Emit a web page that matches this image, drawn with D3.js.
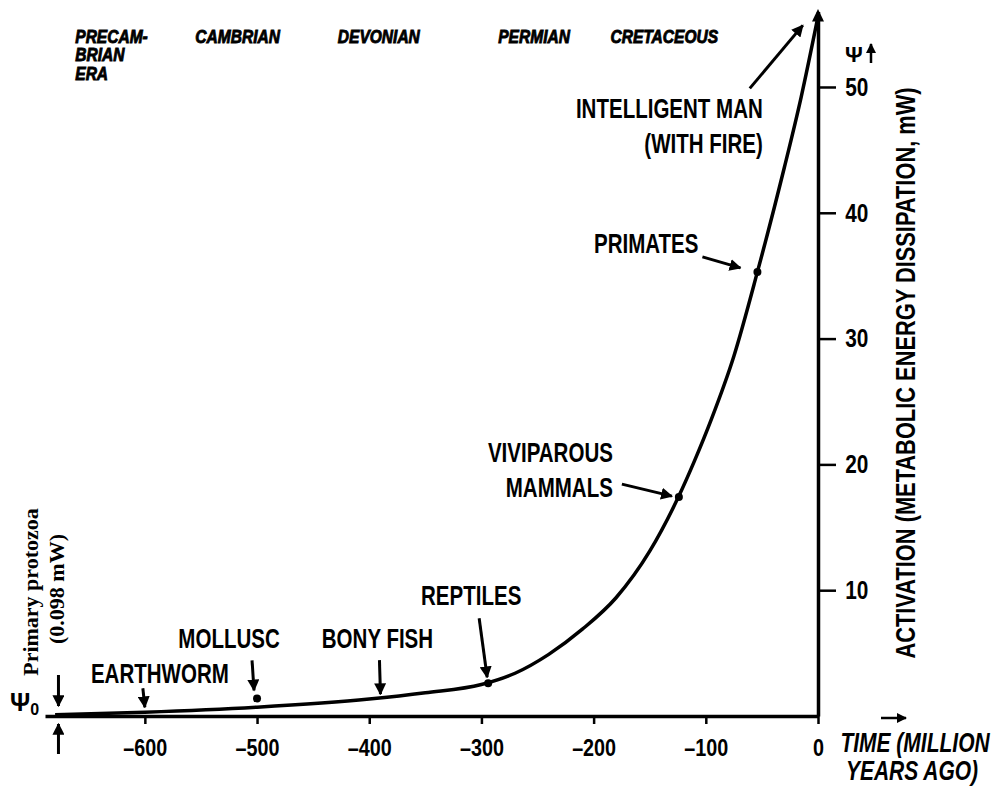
<!DOCTYPE html>
<html>
<head>
<meta charset="utf-8">
<script src="https://cdn.jsdelivr.net/npm/d3@7/dist/d3.min.js"></script>
<style>
  body { margin: 0; background: #fff; }
  svg { display: block; }
  text { font-family: "Liberation Sans", Arial, sans-serif; fill: #000; }
</style>
</head>
<body>
<svg id="chart" width="1001" height="789"></svg>
<script>
// Curve: activation (mW) against time (million years ago)
var timeMya = [-680, -600, -500, -400, -350, -300, -270, -240, -210, -180, -150, -125, -110, -95, -75, -54, -30, -15, 0];
var activation = [0.1, 0.3, 0.7, 1.35, 1.85, 2.5, 3.4, 4.9, 6.9, 9.4, 13.1, 17.3, 20.3, 23.6, 28.6, 35.3, 43.6, 49.2, 55.6];

// Tick labels
var timeTicks = [-600, -500, -400, -300, -200, -100, 0];
var activationTicks = [10, 20, 30, 40, 50];

// Geological eras along the top
var eraNames = [["PRECAM-", "BRIAN", "ERA"], ["CAMBRIAN"], ["DEVONIAN"], ["PERMIAN"], ["CRETACEOUS"]];
var eraTimes = [-662, -555, -428, -285, -185];

// Evolutionary events marked on the curve
var eventNames = [["EARTHWORM"], ["MOLLUSC"], ["BONY FISH"], ["REPTILES"], ["VIVIPAROUS", "MAMMALS"], ["PRIMATES"], ["INTELLIGENT MAN", "(WITH FIRE)"]];
var eventTimes = [-600, -500, -390, -294, -124, -54, -10];
var eventValues = [0.3, 1.4, 1.5, 2.6, 17.4, 35.3, 54.5];

// Primary protozoa starting level
var psi0Time = -677;
var psi0Value = 0.098;

var svg = d3.select("#chart");

var xScale = d3.scaleLinear()
  .domain([-689, 0])
  .range([45, 818]);

var yScale = d3.scaleLinear()
  .domain([0, 56])
  .range([716, 11.5]);

// condensed text: squeeze horizontally around the anchor point
function narrowText(x, y, str, size, opts) {
  opts = opts || {};
  var t = svg.append("text")
    .attr("transform", "translate(" + x + "," + y + ")" + (opts.rotate ? " rotate(" + opts.rotate + ")" : "") + " scale(" + (opts.sx || 0.82) + ",1)")
    .attr("text-anchor", opts.anchor || "start")
    .style("font-size", size + "px")
    .style("font-weight", opts.weight || "bold")
    .style("font-style", opts.italic ? "italic" : "normal");
  if (opts.heavy) {
    t.attr("stroke", "#000").attr("stroke-width", opts.heavy);
  }
  var lines = Array.isArray(str) ? str : [str];
  lines.forEach(function (s, j) {
    t.append("tspan")
      .attr("x", 0)
      .attr("y", j * (opts.lineHeight || size))
      .text(s);
  });
  return t;
}

function arrow(x1, y1, x2, y2, w) {
  svg.append("line")
    .attr("x1", x1).attr("y1", y1)
    .attr("x2", x2).attr("y2", y2)
    .attr("stroke", "#000")
    .attr("stroke-width", w || 3)
    .attr("marker-end", "url(#head)");
}

// arrow head marker
svg.append("defs").append("marker")
  .attr("id", "head")
  .attr("viewBox", "0 0 10 10")
  .attr("refX", 9).attr("refY", 5)
  .attr("markerWidth", 4).attr("markerHeight", 4)
  .attr("markerUnits", "strokeWidth")
  .attr("orient", "auto")
  .append("path")
  .attr("d", "M0,0 L10,5 L0,10 z")
  .attr("fill", "#000");

// ---- axes ----
var xAxis = d3.axisBottom(xScale)
  .tickValues(timeTicks)
  .tickSize(8)
  .tickSizeOuter(0)
  .tickPadding(16)
  .tickFormat(function (d) { return d === 0 ? "0" : "\u2013" + Math.abs(d); });

var gx = svg.append("g")
  .attr("transform", "translate(0," + yScale(0) + ")")
  .call(xAxis);
gx.select(".domain").attr("stroke-width", 3.5);
gx.selectAll(".tick line").attr("stroke-width", 2.5);
gx.selectAll(".tick text")
  .style("font-size", "23px")
  .style("font-weight", "bold")
  .style("font-family", "'Liberation Sans', Arial, sans-serif")
  .attr("transform", "scale(0.86,1)")
  .attr("fill", "#000");

var yAxis = d3.axisRight(yScale)
  .tickValues(activationTicks)
  .tickSize(18)
  .tickSizeOuter(0)
  .tickPadding(9);

var gy = svg.append("g")
  .attr("transform", "translate(" + xScale(0) + ",0)")
  .call(yAxis);
gy.select(".domain").attr("stroke-width", 3.5);
gy.selectAll(".tick line").attr("stroke-width", 2.5);
gy.selectAll(".tick text")
  .style("font-size", "26px")
  .style("font-weight", "bold")
  .style("font-family", "'Liberation Sans', Arial, sans-serif")
  .attr("transform", "scale(0.8,1)")
  .attr("x", 34)
  .attr("fill", "#000");

// arrow tip on top of the vertical axis
svg.append("path")
  .attr("d", d3.line()([[xScale(0) - 6, yScale(55.2)], [xScale(0), yScale(56.2)], [xScale(0) + 6, yScale(55.2)]]))
  .attr("fill", "#000");

// ---- curve ----
var line = d3.line()
  .x(function (d, i) { return xScale(timeMya[i]); })
  .y(function (d) { return yScale(d); })
  .curve(d3.curveMonotoneX);

svg.append("path")
  .datum(activation)
  .attr("d", line)
  .attr("fill", "none")
  .attr("stroke", "#000")
  .attr("stroke-width", 3.5);

// dots on some events
var dotted = [1, 3, 4, 5];
svg.selectAll(".dot")
  .data(dotted)
  .enter().append("circle")
  .attr("class", "dot")
  .attr("cx", function (i) { return xScale(eventTimes[i]); })
  .attr("cy", function (i) { return yScale(eventValues[i]); })
  .attr("r", 4)
  .attr("fill", "#000");

// label / arrow offsets (pixels, relative to each event point)
var labelOffsets = [[15, -29, "middle"], [-28, -50, "middle"], [-3, -49, "middle"], [-17, -78, "middle"], [-66, -35, "end"], [-59, -19, "end"], [-44, 88, "end"]];
var arrowOffsets = [[-2, -24, 0, -5], [-5, -38, -3, -8], [-1, -37, 0, -3], [-9, -65, -1, -6], [-57, -13, -7, -1], [-55, -15, -17, -4], [-57, 58, -4, -5]];

eventNames.forEach(function (lines, i) {
  var px = xScale(eventTimes[i]),
      py = yScale(eventValues[i]),
      lo = labelOffsets[i],
      ao = arrowOffsets[i];

  narrowText(px + lo[0], py + lo[1], lines, 27, { anchor: lo[2], lineHeight: 35, sx: 0.76 });
  arrow(px + ao[0], py + ao[1], px + ao[2], py + ao[3]);
});

// ---- era labels ----
eraNames.forEach(function (lines, i) {
  narrowText(xScale(eraTimes[i]), 43, lines, 18.5, { italic: true, lineHeight: 18.5, sx: 0.84, heavy: 0.9 });
});

// ---- protozoa start ----
var p0x = xScale(psi0Time), p0y = yScale(0);
arrow(p0x, p0y - 41, p0x, p0y - 10);
arrow(p0x, p0y + 38, p0x, p0y + 8);

svg.append("text")
  .attr("transform", "translate(38,592) rotate(-90)")
  .attr("text-anchor", "middle")
  .style("font-family", "'Liberation Serif', 'Times New Roman', serif")
  .style("font-size", "22px")
  .style("font-weight", "bold")
  .text("Primary protozoa");

svg.append("text")
  .attr("transform", "translate(64,589) rotate(-90)")
  .attr("text-anchor", "middle")
  .style("font-family", "'Liberation Serif', 'Times New Roman', serif")
  .style("font-size", "22px")
  .style("font-weight", "bold")
  .text("(" + psi0Value + " mW)");

var psi = svg.append("text")
  .attr("x", 10)
  .attr("y", p0y - 5)
  .style("font-size", "25px")
  .style("font-weight", "bold")
  .text("\u03A8");
psi.append("tspan")
  .attr("dy", 4)
  .style("font-size", "16px")
  .text("0");

// ---- axis titles ----
narrowText(915, 373, "ACTIVATION (METABOLIC ENERGY DISSIPATION, mW)", 28, { anchor: "middle", rotate: -90, sx: 0.78 });

// psi with up arrow near top of the vertical axis
svg.append("text")
  .attr("x", 845)
  .attr("y", 62)
  .style("font-size", "22px")
  .style("font-weight", "bold")
  .text("\u03A8");
arrow(871, 63, 871, 44, 2.5);

// right arrow and time label
arrow(881, 718, 906, 718, 2.5);
narrowText(915, 752, "TIME (MILLION", 28, { anchor: "middle", italic: true, sx: 0.75 });
narrowText(912, 780, "YEARS AGO)", 28, { anchor: "middle", italic: true, sx: 0.75 });
</script>
</body>
</html>
